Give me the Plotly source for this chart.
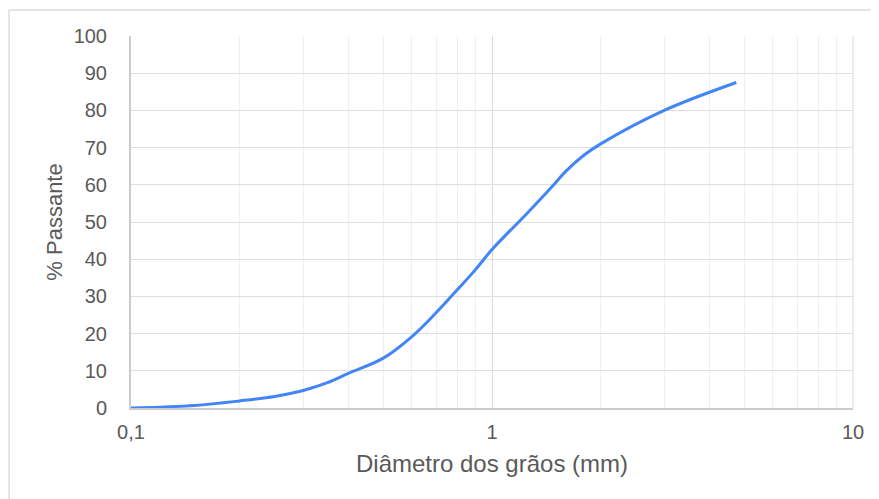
import plotly.graph_objects as go

# Grain size distribution
diametro_mm = [0.1, 0.15, 0.2, 0.25, 0.3, 0.35, 0.4, 0.5, 0.6, 0.7, 0.8, 0.9, 1.0, 1.25, 1.47, 1.6, 1.8, 2.0, 3.0, 4.75]
passante_pct = [0.0, 0.7, 1.9, 3.1, 4.7, 6.8, 9.3, 13.4, 19.2, 25.6, 31.7, 37.2, 42.6, 52.3, 59.6, 63.6, 68.0, 71.0, 80.0, 87.5]

x_tick_vals = [0.1, 1, 10]
x_tick_text = ["0,1", "1", "10"]
x_minor_vals = [m * d for d in (0.1, 1) for m in range(2, 10)]
y_tick_vals = list(range(0, 101, 10))

FONT = "Arial, Liberation Sans, sans-serif"
TXT = "#5a5a5a"

fig = go.Figure()
fig.add_trace(go.Scatter(
    x=diametro_mm, y=passante_pct, mode="lines",
    line=dict(color="#4285f4", width=3, shape="spline", smoothing=1.0),
    showlegend=False, hoverinfo="x+y",
))

W, H = 871, 491  # page body has an 8px margin
L, R, T, B = 123, 26, 28, 91
PW, PH = W - L - R, H - T - B
fig.update_layout(
    width=W, height=H,
    margin=dict(l=L, r=R, t=T, b=B),
    paper_bgcolor="white", plot_bgcolor="white",
    font=dict(family=FONT, color=TXT, size=20),
    xaxis=dict(
        type="log", range=[-1, 1],
        tickvals=x_tick_vals, ticktext=x_tick_text,
        showgrid=True, gridcolor="#d9d9d9", gridwidth=1,
        minor=dict(tickvals=x_minor_vals, showgrid=True, gridcolor="#efefef", gridwidth=1, ticks=""),
        showline=True, linecolor="#cccccc", linewidth=2,
        ticks="", ticklabelstandoff=5,
        tickfont=dict(size=20, color=TXT),
        title=dict(text="Diâmetro dos grãos (mm)", font=dict(size=24, color=TXT), standoff=13),
        zeroline=False, fixedrange=True,
    ),
    yaxis=dict(
        range=[0, 100], tickvals=y_tick_vals,
        showgrid=True, gridcolor="#dedede", gridwidth=1,
        showline=True, linecolor="#cccccc", linewidth=2,
        ticks="", ticklabelstandoff=18,
        tickfont=dict(size=20, color=TXT),
        title=dict(text="% Passante", font=dict(size=22, color=TXT), standoff=5),
        zeroline=False, fixedrange=True,
    ),
    shapes=[
        dict(type="line", xref="paper", yref="paper",
             x0=(1 - L) / PW, x1=(1 - L) / PW, y0=(H - B - 2) / PH, y1=-0.4,
             line=dict(color="#dcdcdc", width=1.5)),
        dict(type="line", xref="paper", yref="paper",
             x0=(1 - L) / PW, x1=1.1, y0=(H - B - 2) / PH, y1=(H - B - 2) / PH,
             line=dict(color="#dcdcdc", width=1.5)),
        dict(type="line", xref="paper", yref="paper",
             x0=1, x1=1, y0=0, y1=1, layer="below",
             line=dict(color="#d9d9d9", width=1)),
    ],
)

fig.write_html("out.html")
